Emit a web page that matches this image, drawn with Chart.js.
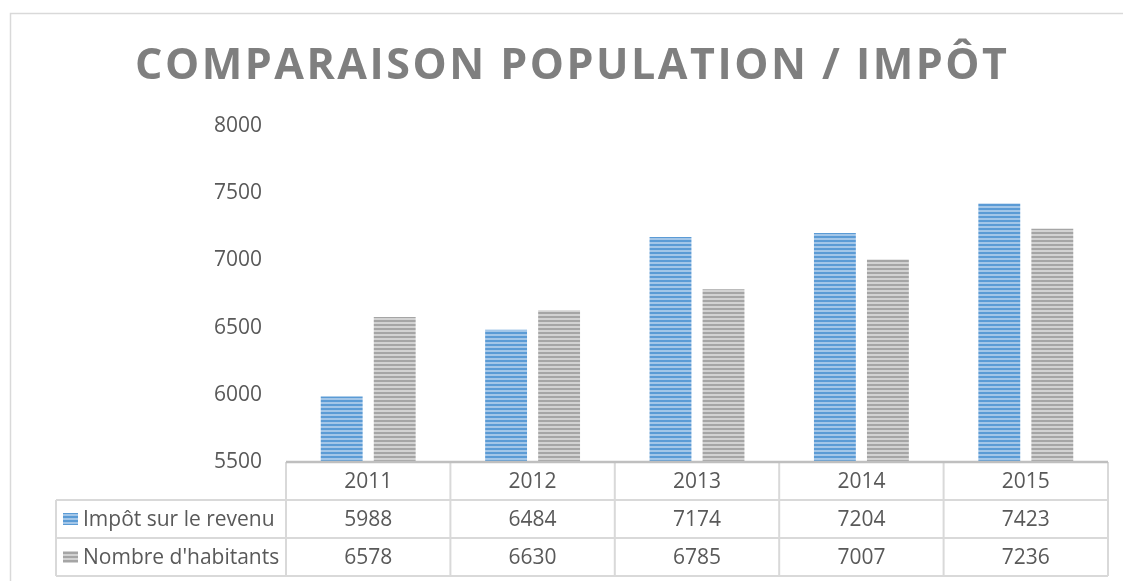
<!DOCTYPE html>
<html>
<head>
<meta charset="utf-8">
<script src="https://cdn.jsdelivr.net/npm/chart.js@4/dist/chart.umd.min.js"></script>
<style>
  html, body { margin: 0; padding: 0; background: #fff; }
  #wrap { width: 1123px; height: 581px; }
</style>
</head>
<body>
<div id="wrap"><canvas id="chart" width="1123" height="581"></canvas></div>
<script>
// values
const chartTitle = 'COMPARAISON POPULATION / IMPÔT';
const years = ['2011', '2012', '2013', '2014', '2015'];
const impot = [5988, 6484, 7174, 7204, 7423];
const habitants = [6578, 6630, 6785, 7007, 7236];
const seriesNames = ['Impôt sur le revenu', "Nombre d'habitants"];
const yMin = 5500, yMax = 8000, yStep = 500;

const FONT = '"Open Sans", "DejaVu Sans", sans-serif';
const TEXT = '#595959';
const LINE = '#d9d9d9';

// horizontal stripes like the Excel fill
function stripes(main, light) {
    const c = document.createElement('canvas');
    c.width = 4; c.height = 4;
    const g = c.getContext('2d');
    g.fillStyle = main; g.fillRect(0, 0, 4, 2);
    g.fillStyle = light; g.fillRect(0, 2, 4, 2);
    return g.createPattern(c, 'repeat');
}
const bluePat = stripes('#5b9bd5', '#a3c6e8');
const grayPat = stripes('#a5a5a5', '#d2d2d2');
const fills = [bluePat, grayPat];
const rows = [impot, habitants];

const framePlugin = {
    id: 'frameAndTable',
    beforeDraw(chart) {
        const ctx = chart.ctx;
        ctx.save();
        ctx.strokeStyle = LINE;
        ctx.lineWidth = 1.5;
        ctx.strokeRect(10.5, 13.5, 1200, 700);

        // title with wide letter spacing
        ctx.font = 'bold 43px ' + FONT;
        ctx.fillStyle = '#7f7f7f';
        ctx.textBaseline = 'alphabetic';
        ctx.textAlign = 'left';
        const chars = [...chartTitle];
        const widths = chars.map(ch => ctx.measureText(ch).width);
        const natural = widths.reduce((a, b) => a + b, 0);
        const x0 = 135, x1 = 1007;
        const gap = (x1 - x0 - natural) / (chars.length - 1);
        let x = x0;
        chars.forEach((ch, i) => { ctx.fillText(ch, x, 79); x += widths[i] + gap; });
        ctx.restore();
    },
    afterDraw(chart) {
        const ctx = chart.ctx;
        const xs = chart.scales.x;
        const area = chart.chartArea;
        const n = years.length;
        const edges = [area.left];
        for (let i = 0; i < n - 1; i++) {
            edges.push((xs.getPixelForValue(i) + xs.getPixelForValue(i + 1)) / 2);
        }
        edges.push(area.right);
        const rowY = [area.bottom, area.bottom + 38, area.bottom + 76, area.bottom + 114];
        const leftX = 56;

        ctx.save();
        ctx.strokeStyle = LINE;
        ctx.lineWidth = 2;
        // horizontal lines
        ctx.beginPath();
        ctx.moveTo(leftX, rowY[1]); ctx.lineTo(area.right, rowY[1]);
        ctx.moveTo(leftX, rowY[2]); ctx.lineTo(area.right, rowY[2]);
        ctx.moveTo(leftX, rowY[3]); ctx.lineTo(area.right, rowY[3]);
        // vertical lines
        edges.forEach(ex => { ctx.moveTo(ex, rowY[0]); ctx.lineTo(ex, rowY[3]); });
        ctx.moveTo(leftX, rowY[1]); ctx.lineTo(leftX, rowY[3]);
        ctx.stroke();
        // axis line on top of the table
        ctx.strokeStyle = '#bfbfbf';
        ctx.lineWidth = 2.5;
        ctx.beginPath();
        ctx.moveTo(area.left, rowY[0]); ctx.lineTo(area.right, rowY[0]);
        ctx.stroke();

        ctx.font = '21px ' + FONT;
        ctx.fillStyle = TEXT;
        ctx.textAlign = 'center';
        ctx.textBaseline = 'middle';
        years.forEach((y, i) => {
            const cx = (edges[i] + edges[i + 1]) / 2;
            ctx.fillText(y, cx, (rowY[0] + rowY[1]) / 2 + 1);
            ctx.fillText(String(impot[i]), cx, (rowY[1] + rowY[2]) / 2 + 1);
            ctx.fillText(String(habitants[i]), cx, (rowY[2] + rowY[3]) / 2 + 1);
        });
        // series names with keys
        ctx.textAlign = 'left';
        seriesNames.forEach((name, r) => {
            const cy = (rowY[r + 1] + rowY[r + 2]) / 2;
            ctx.fillStyle = fills[r];
            ctx.fillRect(63, cy - 6, 15, 12);
            ctx.fillStyle = TEXT;
            ctx.fillText(name, 83, cy + 1);
        });
        ctx.restore();
    }
};

new Chart(document.getElementById('chart'), {
    type: 'bar',
    data: {
        labels: years,
        datasets: seriesNames.map((name, i) => ({
            label: name,
            data: rows[i],
            backgroundColor: fills[i],
            borderWidth: 0,
            categoryPercentage: 0.645,
            barPercentage: 0.79
        }))
    },
    options: {
        responsive: false,
        animation: false,
        layout: { padding: { left: 0, right: 15, top: 126, bottom: 119 } },
        plugins: { legend: { display: false }, title: { display: false }, tooltip: { enabled: false } },
        scales: {
            x: { display: false },
            y: {
                min: yMin, max: yMax,
                border: { display: false },
                grid: { display: false, drawTicks: false },
                ticks: {
                    stepSize: yStep, padding: 24, color: TEXT,
                    font: { family: FONT, size: 21 },
                    callback: v => String(v)
                },
                afterFit(scale) { scale.width = 286; }
            }
        }
    },
    plugins: [framePlugin]
});
</script>
</body>
</html>
